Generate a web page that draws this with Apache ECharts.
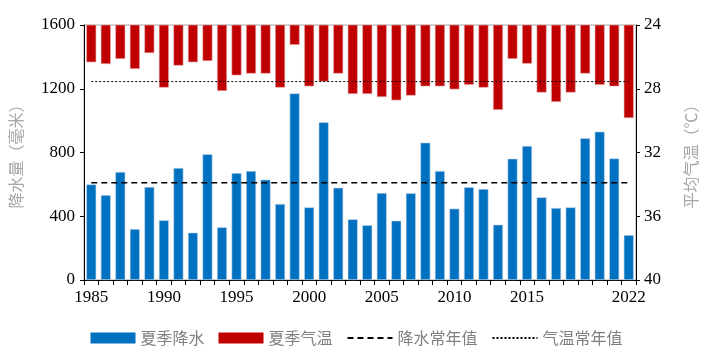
<!DOCTYPE html>
<html><head><meta charset="utf-8">
<script src="https://cdn.jsdelivr.net/npm/echarts@6/dist/echarts.min.js"></script>
<style>html,body{margin:0;padding:0;background:#fff}#c{width:713px;height:359px}</style>
</head><body><div id="c"></div>
<script>
const years = ['1985','1986','1987','1988','1989','1990','1991','1992','1993','1994','1995','1996','1997','1998','1999','2000','2001','2002','2003','2004','2005','2006','2007','2008','2009','2010','2011','2012','2013','2014','2015','2016','2017','2018','2019','2020','2021','2022'];
const summerRain = [600,533,678,320,584,375,703,297,789,331,671,684,630,477,1171,456,990,579,381,344,546,372,544,862,684,448,582,571,347,761,841,519,452,456,889,931,763,282];
const summerTemp = [26.34,26.45,26.13,26.76,25.76,27.93,26.55,26.34,26.26,28.14,27.16,27.05,27.05,27.93,25.25,27.85,27.55,27.05,28.33,28.33,28.52,28.73,28.43,27.85,27.85,28.04,27.76,27.93,29.33,26.13,26.43,28.24,28.83,28.24,27.05,27.76,27.85,29.84];
const rainNormal = 610;
const tempNormal = 27.55;
const shownYearLabels = ['1985','1990','1995','2000','2005','2010','2015','2022'];
const rainTicks = [0,400,800,1200,1600];
const tempTicks = [24,28,32,36,40];

const chart = echarts.init(document.getElementById('c'));
const serif = '"Liberation Serif", "Times New Roman", serif';
const cjk = '"Noto Sans CJK SC", sans-serif';
chart.setOption({
  animation: false,
  grid: {left: 76, right: 77, top: 25, bottom: 79, show: true, borderColor: '#a6a6a6', borderWidth: 1},
  legend: {
    bottom: 8, left: 'center', itemWidth: 45, itemHeight: 11, itemGap: 14,
    textStyle: {fontFamily: cjk, fontSize: 16, color: '#7f7f7f'},
    data: [
      {name: '夏季降水', icon: 'rect', itemStyle: {borderWidth: 0}},
      {name: '夏季气温', icon: 'rect', itemStyle: {borderWidth: 0}},
      {name: '降水常年值', itemStyle: {opacity: 0}},
      {name: '气温常年值', itemStyle: {opacity: 0}}
    ]
  },
  xAxis: {
    type: 'category', data: years, boundaryGap: true,
    axisLine: {lineStyle: {color: '#000', width: 1}},
    axisTick: {show: true, interval: 0, length: 5, lineStyle: {color: '#000'}},
    axisLabel: {
      interval: (i, v) => shownYearLabels.includes(v),
      fontFamily: serif, fontSize: 17, color: '#000', margin: 9
    }
  },
  yAxis: [
    {
      type: 'value', min: rainTicks[0], max: rainTicks[rainTicks.length-1], interval: 400,
      name: '降水量（毫米）', nameLocation: 'middle', nameGap: 60, nameRotate: 90,
      nameTextStyle: {fontFamily: cjk, fontSize: 16, color: '#a6a6a6'},
      axisLine: {show: true, lineStyle: {color: '#000'}},
      axisTick: {show: true, length: 4, lineStyle: {color: '#000'}},
      axisLabel: {fontFamily: serif, fontSize: 17, color: '#000', margin: 9, formatter: v => String(v)},
      splitLine: {show: false}
    },
    {
      type: 'value', min: tempTicks[0], max: tempTicks[tempTicks.length-1], interval: 4, inverse: true,
      name: '平均气温（℃）', nameLocation: 'middle', nameGap: 47, nameRotate: 90,
      nameTextStyle: {fontFamily: cjk, fontSize: 16, color: '#a6a6a6'},
      axisLine: {show: true, lineStyle: {color: '#000'}},
      axisTick: {show: true, length: 4, lineStyle: {color: '#000'}},
      axisLabel: {fontFamily: serif, fontSize: 17, color: '#000', margin: 8, formatter: v => String(v)},
      splitLine: {show: false}
    }
  ],
  series: [
    {
      name: '夏季降水', type: 'bar', yAxisIndex: 0, data: summerRain,
      barWidth: 10, barGap: '-100%',
      itemStyle: {color: '#0070C0', borderColor: '#c9d9ea', borderWidth: 0.6}
    },
    {
      name: '夏季气温', type: 'bar', yAxisIndex: 1, data: summerTemp,
      barWidth: 10, barGap: '-100%', clip: true,
      itemStyle: {color: '#C00000', borderColor: '#e6b3b3', borderWidth: 0.6}
    },
    {
      name: '降水常年值', type: 'line', yAxisIndex: 0,
      data: years.map(() => rainNormal), symbol: 'none',
      lineStyle: {color: '#000', width: 1.5, type: [6, 4]}
    },
    {
      name: '气温常年值', type: 'line', yAxisIndex: 1,
      data: years.map(() => tempNormal), symbol: 'none',
      lineStyle: {color: '#000', width: 1, type: [2, 2]}
    }
  ]
});
</script></body></html>
